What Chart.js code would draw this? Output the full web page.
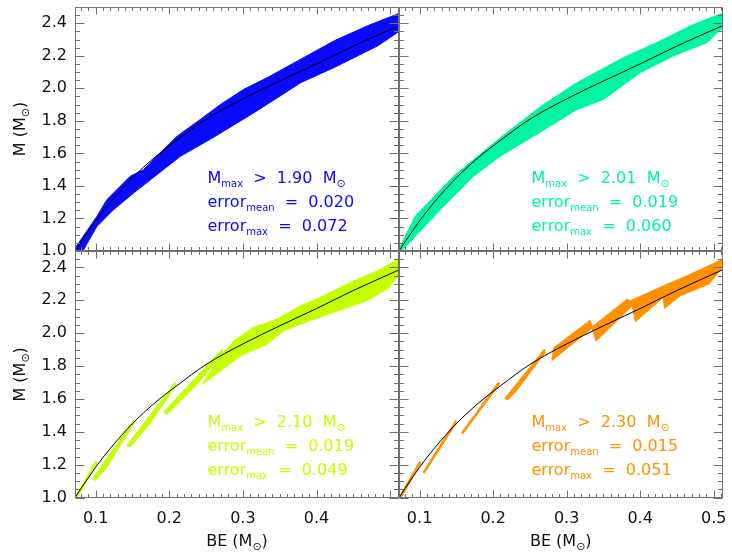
<!DOCTYPE html>
<html>
<head>
<meta charset="utf-8">
<script src="https://cdn.jsdelivr.net/npm/chart.js"></script>
<style>
  body { margin: 0; background: #fff; overflow: hidden; }
  #wrap { position: relative; width: 732px; height: 552px; overflow: hidden; }
  canvas { position: absolute; left: -20px; top: -20px; }
</style>
</head>
<body>
<div id="wrap">
  <canvas id="p0" width="772" height="592"></canvas>
  <canvas id="p1" width="772" height="592"></canvas>
  <canvas id="p2" width="772" height="592"></canvas>
  <canvas id="p3" width="772" height="592"></canvas>
</div>
<script>
// axis ranges and tick labels
const beMin = 0.072, beMax = 0.512, mMin = 1.0, mMax = 2.5;
const xTicks = [0.1, 0.2, 0.3, 0.4, 0.5];
const yTicks = [1.0, 1.2, 1.4, 1.6, 1.8, 2.0, 2.2, 2.4];

// fitted curve (black line)
const fitBE = [0.072, 0.08, 0.09, 0.10, 0.12, 0.15, 0.18, 0.21, 0.25, 0.30, 0.35, 0.40, 0.45, 0.512];
const fitM  = [1.00, 1.055, 1.12, 1.185, 1.30, 1.45, 1.575, 1.68, 1.81, 1.935, 2.045, 2.15, 2.26, 2.385];

// outlines of the point clouds (upper edge left->right, then lower edge right->left)
const blueBE = [0.072, 0.1016, 0.1152, 0.1469, 0.165, 0.2106, 0.2423, 0.2696, 0.3013, 0.3332, 0.3785, 0.424, 0.4694, 0.5134,
                0.5134, 0.483, 0.424, 0.3785, 0.3513, 0.315, 0.2605, 0.2151, 0.1514, 0.1242, 0.1016, 0.0788];
const blueM  = [1.017, 1.212, 1.315, 1.459, 1.50, 1.706, 1.809, 1.901, 1.994, 2.066, 2.179, 2.292, 2.385, 2.463,
                2.354, 2.261, 2.128, 2.035, 1.955, 1.85, 1.70, 1.582, 1.356, 1.253, 1.15, 0.97];

const greenBE = [0.0724, 0.0938, 0.146, 0.2096, 0.2686, 0.3141, 0.3776, 0.4231, 0.4685, 0.5125,
                 0.5125, 0.4912, 0.4457, 0.4003, 0.3503, 0.3141, 0.255, 0.2096, 0.1732, 0.1324, 0.0915, 0.0734];
const greenM  = [1.017, 1.212, 1.459, 1.696, 1.901, 2.035, 2.19, 2.282, 2.385, 2.463,
                 2.375, 2.282, 2.20, 2.097, 1.932, 1.87, 1.706, 1.582, 1.459, 1.273, 1.078, 0.99];

const yellowA_BE = [0.0720, 0.1002, 0.1020, 0.0743];
const yellowA_M  = [1.002, 1.222, 1.210, 0.995];
const yellowB_BE = [0.0956, 0.1515, 0.1528, 0.1129, 0.0992];
const yellowB_M  = [1.114, 1.471, 1.455, 1.169, 1.104];
const yellowC_BE = [0.1424, 0.2082, 0.2096, 0.1720, 0.1469];
const yellowC_M  = [1.318, 1.700, 1.683, 1.44, 1.308];
const yellowD_BE = [0.1923, 0.2718, 0.2732, 0.2380, 0.1969];
const yellowD_M  = [1.520, 1.903, 1.883, 1.69, 1.506];
const yellowE_BE = [0.2446, 0.2650, 0.2877, 0.3149, 0.3468, 0.3785, 0.4013, 0.4467, 0.4830, 0.5134,
                    0.5134, 0.4966, 0.4694, 0.424, 0.3785, 0.3558, 0.3332, 0.2968, 0.2786, 0.2604];
const yellowE_M  = [1.689, 1.832, 1.954, 2.036, 2.087, 2.168, 2.209, 2.31, 2.38, 2.455,
                    2.36, 2.27, 2.199, 2.128, 2.056, 2.015, 1.934, 1.862, 1.801, 1.74];

const orangeA_BE = [0.0720, 0.1002, 0.1015, 0.0743];
const orangeA_M  = [1.002, 1.222, 1.208, 0.995];
const orangeB_BE = [0.1047, 0.1492, 0.1506, 0.1065];
const orangeB_M  = [1.155, 1.471, 1.459, 1.149];
const orangeC_BE = [0.1569, 0.2073, 0.2087, 0.1592];
const orangeC_M  = [1.394, 1.704, 1.690, 1.390];
const orangeD_BE = [0.2160, 0.2696, 0.2709, 0.2300, 0.2200];
const orangeD_M  = [1.603, 1.903, 1.883, 1.64, 1.595];
const orangeE_BE = [0.2800, 0.2822, 0.3322, 0.3345, 0.3822, 0.3867, 0.4321, 0.4639, 0.5134,
                    0.5134, 0.4934, 0.4548, 0.4330, 0.4312, 0.3935, 0.3890, 0.3400, 0.3345];
const orangeE_M  = [1.834, 1.911, 2.079, 2.038, 2.207, 2.197, 2.289, 2.350, 2.452,
                    2.405, 2.299, 2.228, 2.152, 2.217, 2.070, 2.166, 1.952, 2.03];

// annotation numbers
const mmaxText = ['1.90', '2.01', '2.10', '2.30'];
const errMeanText = ['0.020', '0.019', '0.019', '0.015'];
const errMaxText = ['0.072', '0.060', '0.049', '0.051'];

const colors = ['#0a0aff', '#00f5a0', '#c4ff00', '#ff9000'];
const frameColor = '#707070';
const FONT = '"DejaVu Sans", sans-serif';

function closed(be, m) {
    const p = be.map((v, i) => ({x: v, y: m[i]}));
    p.push(p[0]);
    return p;
}

function drawRich(ctx, x, y, parts) {
    parts.forEach(function(p) {
        ctx.font = p[1] + 'px ' + FONT;
        ctx.fillText(p[0], x, y + p[2]);
        x += ctx.measureText(p[0]).width;
    });
}
function richWidth(ctx, parts) {
    let w = 0;
    parts.forEach(function(p) {
        ctx.font = p[1] + 'px ' + FONT;
        w += ctx.measureText(p[0]).width;
    });
    return w;
}

// frame, inward ticks, titles and the text block
const decor = {
    id: 'decor',
    afterDraw(chart, args, o) {
        const ctx = chart.ctx, a = chart.chartArea;
        const xs = chart.scales.x, ys = chart.scales.y;
        ctx.save();
        ctx.strokeStyle = frameColor;
        ctx.lineWidth = 1;
        const L = Math.round(a.left) + 0.5, R = Math.round(a.right) - 0.5;
        const T = Math.round(a.top) + 0.5, B = Math.round(a.bottom) - 0.5;
        ctx.beginPath();
        ctx.rect(L, T, R - L, B - T);
        for (let i = 8; i <= 51; i++) {
            const v = i / 100;
            const px = Math.round(xs.getPixelForValue(v)) + 0.5;
            const len = (i % 10 === 0) ? 7 : 3.5;
            ctx.moveTo(px, B); ctx.lineTo(px, B - len);
            ctx.moveTo(px, T); ctx.lineTo(px, T + len);
        }
        for (let i = 20; i <= 50; i++) {
            const v = i / 20;
            const py = Math.round(ys.getPixelForValue(v)) + 0.5;
            const len = (i % 4 === 0) ? 9 : 4.5;
            ctx.moveTo(L, py); ctx.lineTo(L + len, py);
            ctx.moveTo(R, py); ctx.lineTo(R - len, py);
        }
        ctx.stroke();

        ctx.fillStyle = '#111';
        ctx.textBaseline = 'alphabetic';
        if (o.yTitle) {
            const parts = [['M (M', 16, 0], ['\u2299', 11, 4], [')', 16, 0]];
            const w = richWidth(ctx, parts);
            ctx.save();
            ctx.translate(a.left - 50, (a.top + a.bottom) / 2);
            ctx.rotate(-Math.PI / 2);
            drawRich(ctx, -w / 2, 0, parts);
            ctx.restore();
        }
        if (o.xTitle) {
            const parts = [['BE (M', 16, 0], ['\u2299', 11, 4], [')', 16, 0]];
            const w = richWidth(ctx, parts);
            drawRich(ctx, (a.left + a.right) / 2 - w / 2, a.bottom + 48.5, parts);
        }

        ctx.fillStyle = o.color;
        const tx = a.left + 132.5;
        drawRich(ctx, tx, a.top + 175.5, [['M', 16, 0], ['max', 10, 4], ['  >  ' + o.mmax + '  M', 16, 0], ['\u2299', 11, 4]]);
        drawRich(ctx, tx, a.top + 199.5, [['error', 16, 0], ['mean', 10, 4], ['  =  ' + o.mean, 16, 0]]);
        drawRich(ctx, tx, a.top + 223.5, [['error', 16, 0], ['max', 10, 4], ['  =  ' + o.emax, 16, 0]]);
        ctx.restore();
    }
};

function makePanel(id, k, pieces, pos) {
    const datasets = [{
        data: fitBE.map((v, i) => ({x: v, y: fitM[i]})),
        borderColor: '#000',
        borderWidth: 1,
        pointRadius: 0,
        fill: false,
        cubicInterpolationMode: 'monotone'
    }];
    pieces.forEach(function(pc) {
        datasets.push({
            data: closed(pc[0], pc[1]),
            borderColor: colors[k],
            backgroundColor: colors[k],
            borderWidth: 1,
            pointRadius: 0,
            tension: 0,
            fill: 'shape'
        });
    });
    const left = pos.col === 0, bottom = pos.row === 1;
    new Chart(document.getElementById(id), {
        type: 'line',
        data: { datasets: datasets },
        options: {
            responsive: false,
            animation: false,
            events: [],
            layout: {
                padding: {
                    left: left ? 0 : 419,
                    right: left ? 353 : 29.5,
                    top: bottom ? 271 : 27,
                    bottom: bottom ? 0 : 321
                }
            },
            plugins: {
                legend: { display: false },
                tooltip: { enabled: false },
                decor: {
                    color: colors[k],
                    mmax: mmaxText[k], mean: errMeanText[k], emax: errMaxText[k],
                    yTitle: left, xTitle: bottom
                }
            },
            scales: {
                x: {
                    type: 'linear',
                    min: beMin, max: beMax,
                    display: bottom,
                    grid: { display: false, drawTicks: false },
                    border: { display: false },
                    afterBuildTicks: function(s) { s.ticks = xTicks.map(v => ({value: v})); },
                    afterFit: function(s) { s.height = bottom ? 74.3 : 0; },
                    ticks: {
                        autoSkip: false,
                        maxRotation: 0,
                        padding: 12,
                        color: '#111',
                        font: { family: FONT, size: 16 },
                        callback: function(v) { return (left && v > 0.45) ? '' : v.toFixed(1); }
                    }
                },
                y: {
                    min: mMin, max: mMax,
                    display: left,
                    grid: { display: false, drawTicks: false },
                    border: { display: false },
                    afterBuildTicks: function(s) { s.ticks = yTicks.map(v => ({value: v})); },
                    afterFit: function(s) { s.width = left ? 95 : 0; },
                    ticks: {
                        autoSkip: false,
                        padding: 8,
                        color: '#111',
                        font: { family: FONT, size: 16 },
                        callback: function(v) { return v.toFixed(1); }
                    }
                }
            }
        },
        plugins: [decor]
    });
}

makePanel('p0', 0, [[blueBE, blueM]], {row: 0, col: 0});
makePanel('p1', 1, [[greenBE, greenM]], {row: 0, col: 1});
makePanel('p2', 2, [[yellowA_BE, yellowA_M], [yellowB_BE, yellowB_M], [yellowC_BE, yellowC_M],
                    [yellowD_BE, yellowD_M], [yellowE_BE, yellowE_M]], {row: 1, col: 0});
makePanel('p3', 3, [[orangeA_BE, orangeA_M], [orangeB_BE, orangeB_M], [orangeC_BE, orangeC_M],
                    [orangeD_BE, orangeD_M], [orangeE_BE, orangeE_M]], {row: 1, col: 1});
</script>
</body>
</html>
